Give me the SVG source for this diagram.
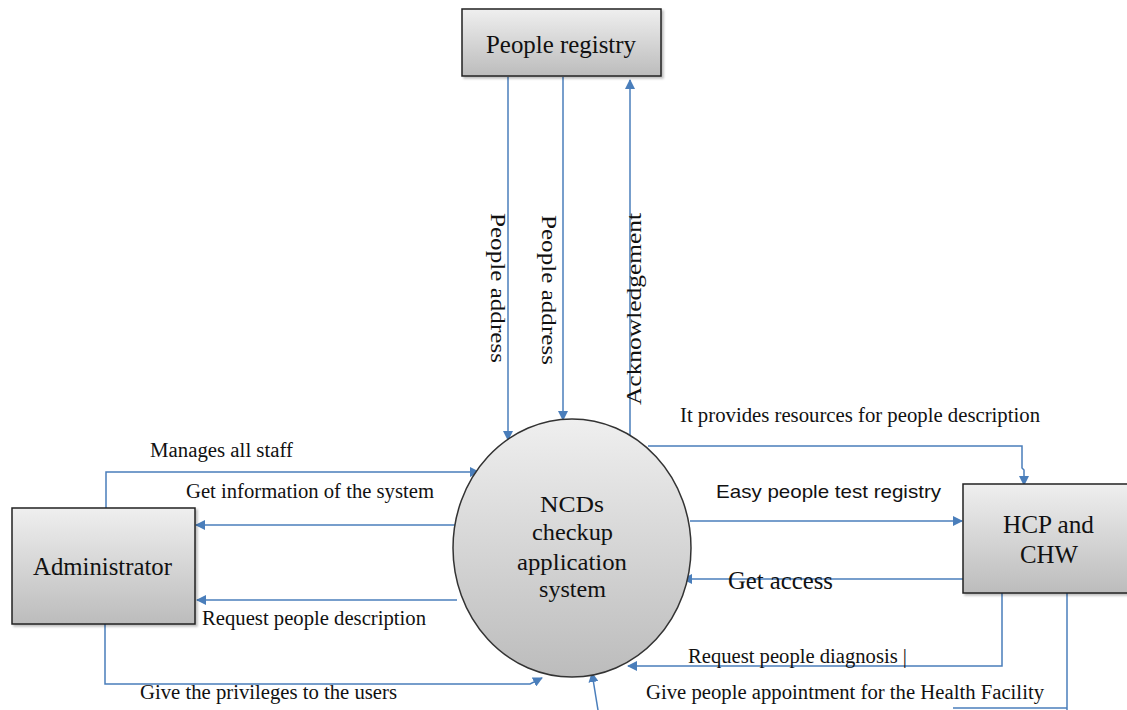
<svg xmlns="http://www.w3.org/2000/svg" width="1127" height="710" viewBox="0 0 1127 710">
<defs>
<linearGradient id="g" x1="0" y1="0" x2="0" y2="1">
<stop offset="0" stop-color="#efefef"/>
<stop offset="1" stop-color="#bcbcbc"/>
</linearGradient>
<marker id="ah" viewBox="0 0 10 10" refX="9" refY="5" markerWidth="10" markerHeight="10" markerUnits="userSpaceOnUse" orient="auto">
<path d="M0,0 L10,5 L0,10 z" fill="#4a7ebb"/>
</marker>
<filter id="sh" x="-10%" y="-10%" width="130%" height="130%">
<feDropShadow dx="2" dy="2" stdDeviation="1" flood-color="#000" flood-opacity="0.25"/>
</filter>
</defs>
<style>
.box{fill:url(#g);stroke:#222;stroke-width:1.5;filter:url(#sh)}
.nt{font-family:"Liberation Serif","Times New Roman",serif;font-size:26px;fill:#111}
.ct{font-family:"Liberation Serif","Times New Roman",serif;font-size:23px;fill:#111}
.lb{font-family:"Liberation Serif","Times New Roman",serif;font-size:20px;fill:#111}
.vl{font-family:"Liberation Serif","Times New Roman",serif;font-size:22px;fill:#111}
.sl{font-family:"Liberation Sans",Arial,sans-serif;font-size:19px;fill:#111}
.c{fill:none;stroke:#4a7ebb;stroke-width:1.5}
.a{marker-end:url(#ah)}
</style>
<g id="connectors">
<path class="c a" d="M508,77 V440"/>
<path class="c a" d="M563,77 V420"/>
<path class="c a" d="M630,436 V80"/>
<path class="c a" d="M106,508 V472 H479"/>
<path class="c a" d="M455,525 H196"/>
<path class="c a" d="M457,600 H197"/>
<path class="c a" d="M105,624 V684 H530 L542,678"/>
<path class="c a" d="M648,446 H1022 V468 L1024,470 V485"/>
<path class="c a" d="M690,521 H962"/>
<path class="c a" d="M966,579 H683"/>
<path class="c a" d="M1002,592 V666 H628"/>
<path class="c" d="M1067,592 V710"/>
<path class="c" d="M953,708 H1067"/>
<path class="c a" d="M598,710 L592,673"/>
</g>
<g id="labels">
<text class="vl" transform="translate(491,213) rotate(90)" textLength="150" lengthAdjust="spacingAndGlyphs">People address</text>
<text class="vl" transform="translate(542,215) rotate(90)" textLength="150" lengthAdjust="spacingAndGlyphs">People address</text>
<text class="vl" transform="translate(641,405) rotate(-90)" textLength="192" lengthAdjust="spacingAndGlyphs">Acknowledgement</text>
<text class="lb" x="150" y="457" textLength="143" lengthAdjust="spacingAndGlyphs">Manages all staff</text>
<text class="lb" x="186" y="498" textLength="248" lengthAdjust="spacingAndGlyphs">Get information of the system</text>
<text class="lb" x="202" y="625" textLength="224" lengthAdjust="spacingAndGlyphs">Request people description</text>
<text class="lb" x="140" y="699" textLength="257" lengthAdjust="spacingAndGlyphs">Give the privileges to the users</text>
<text class="lb" x="680" y="422" textLength="360" lengthAdjust="spacingAndGlyphs">It provides resources for people description</text>
<text class="sl" x="716" y="498" textLength="225" lengthAdjust="spacingAndGlyphs">Easy people test registry</text>
<text class="nt" x="728" y="589" style="font-size:25px" textLength="105" lengthAdjust="spacingAndGlyphs">Get access</text>
<text class="lb" x="688" y="663" textLength="219" lengthAdjust="spacingAndGlyphs">Request people diagnosis |</text>
<text class="lb" x="646" y="699" textLength="398" lengthAdjust="spacingAndGlyphs">Give people appointment for the Health Facility</text>
</g>
<g id="people-registry">
<rect class="box" x="462" y="9" width="199" height="67"/>
<text class="nt" x="486" y="53" textLength="150" lengthAdjust="spacingAndGlyphs">People registry</text>
</g>
<g id="administrator">
<rect class="box" x="12" y="508" width="183" height="116"/>
<text class="nt" x="33" y="575" textLength="139" lengthAdjust="spacingAndGlyphs">Administrator</text>
</g>
<g id="hcp-chw">
<rect class="box" x="963" y="484" width="170" height="109"/>
<text class="nt" x="1003" y="533" textLength="91" lengthAdjust="spacingAndGlyphs">HCP and</text>
<text class="nt" x="1020" y="563" textLength="58" lengthAdjust="spacingAndGlyphs">CHW</text>
</g>
<g id="system">
<ellipse cx="572" cy="548" rx="119" ry="129" fill="url(#g)" stroke="#333" stroke-width="1.5"/>
<text class="ct" x="540" y="512" textLength="64" lengthAdjust="spacingAndGlyphs">NCDs</text>
<text class="ct" x="532" y="540" textLength="81" lengthAdjust="spacingAndGlyphs">checkup</text>
<text class="ct" x="517" y="570" textLength="110" lengthAdjust="spacingAndGlyphs">application</text>
<text class="ct" x="539" y="597" textLength="67" lengthAdjust="spacingAndGlyphs">system</text>
</g>
</svg>
